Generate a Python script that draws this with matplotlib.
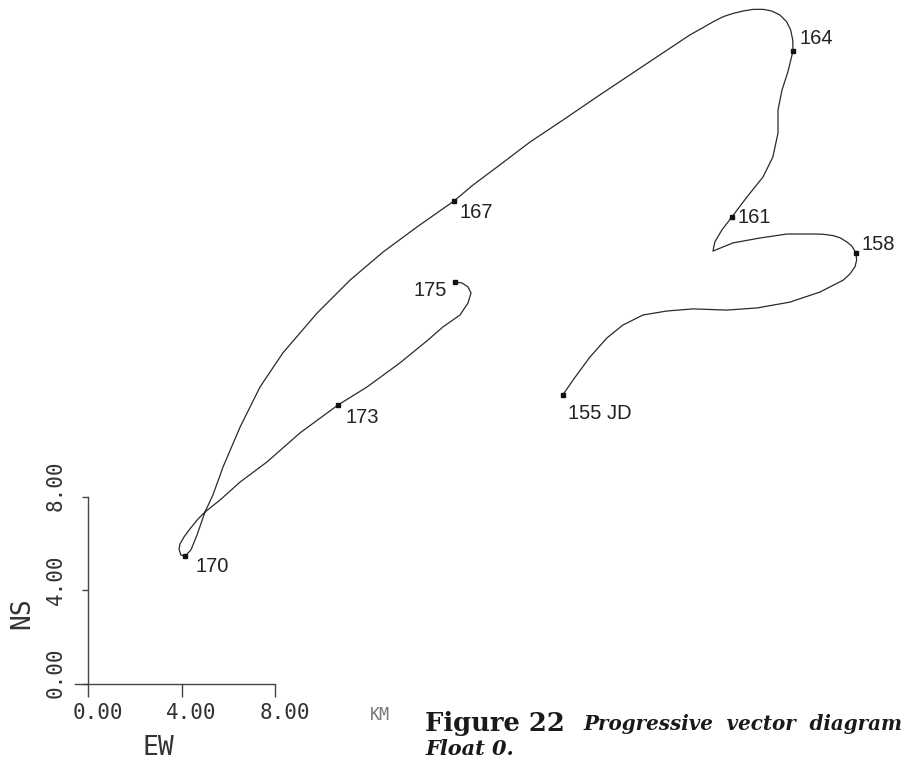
import matplotlib
matplotlib.use("Agg")
import matplotlib.pyplot as plt
import numpy as np

# Float 0 track, km east (EW) and km north (NS) from the origin
track_ew = [20.29, 20.73, 21.45, 22.18, 22.86, 23.72, 24.74, 25.85, 27.31, 28.59,
            30.00, 31.28, 32.28, 32.56, 32.78, 32.85, 32.82, 32.64, 32.42, 32.14,
            31.85, 31.42, 30.99, 29.87, 28.72, 27.56, 26.71, 26.79, 27.09, 27.52,
            28.16, 28.85, 29.27, 29.49, 29.49, 29.66, 29.91, 30.13, 30.12, 30.03,
            29.86, 29.57, 29.22, 28.86, 28.43, 28.00, 27.58, 27.15, 26.72, 26.23,
            25.73, 24.57, 23.16, 21.75, 20.30, 18.89, 17.48, 16.45, 15.64, 14.06,
            12.61, 11.20, 9.79, 8.33, 7.35, 6.50, 5.77, 5.34, 5.00, 4.66,
            4.40, 4.15, 3.97, 3.89, 3.93, 4.10, 4.32, 4.70, 5.00, 5.64,
            6.50, 7.65, 9.06, 10.68, 11.92, 13.33, 14.53, 15.17, 15.90, 16.24,
            16.37, 16.24, 15.98, 15.68]
track_ns = [12.35, 12.99, 13.97, 14.79, 15.34, 15.77, 15.94, 16.03, 15.98, 16.07,
            16.32, 16.75, 17.26, 17.52, 17.83, 18.12, 18.43, 18.72, 18.90, 19.07,
            19.16, 19.22, 19.23, 19.23, 19.06, 18.85, 18.50, 18.89, 19.40, 19.96,
            20.81, 21.67, 22.52, 23.55, 24.53, 25.38, 26.15, 27.05, 27.52, 27.95,
            28.30, 28.59, 28.76, 28.83, 28.83, 28.76, 28.66, 28.52, 28.30, 28.02,
            27.74, 26.97, 26.03, 25.09, 24.10, 23.16, 22.09, 21.32, 20.64, 19.53,
            18.46, 17.26, 15.85, 14.15, 12.69, 10.98, 9.27, 8.08, 7.35, 6.37,
            5.73, 5.47, 5.51, 5.77, 5.98, 6.28, 6.58, 7.05, 7.35, 7.86,
            8.63, 9.49, 10.73, 11.92, 12.69, 13.72, 14.70, 15.26, 15.77, 16.28,
            16.71, 16.97, 17.14, 17.18]

# julian days marked along the track, and where they fall in it
days = ["155 JD", "158", "161", "164", "167", "170", "173", "175"]
day_idx = [0, 16, 29, 37, 58, 71, 83, 93]

ticks = [0, 4, 8]
tick_labels = ["0.00", "4.00", "8.00"]

# label offsets in pixels (dx, dy, ha)
label_off = [(5, -18, "left"), (6, 8, "left"), (6, -1, "left"), (7, 13, "left"),
             (6, -11, "left"), (10, -10, "left"), (8, -12, "left"), (-8, -9, "right")]

fig = plt.figure(figsize=(9.06, 7.65), dpi=100)
ax = fig.add_axes([0, 0, 1, 1])
ax.set_xlim(-3.76, 34.96)
ax.set_ylim(-3.46, 29.23)
ax.set_facecolor("white")

ink = "#2a2a2a"
ax.plot(track_ew, track_ns, color=ink, lw=0.9, solid_joinstyle="round")

mx = np.array(track_ew)[day_idx]
my = np.array(track_ns)[day_idx]
ax.plot(mx, my, "s", color="#111111", ms=3.2, ls="none")

for d, x, y, (dx, dy, ha) in zip(days, mx, my, label_off):
    ax.annotate(d, (x, y), xytext=(dx, dy), textcoords="offset pixels",
                ha=ha, va="center", fontsize=14.5, color="#222222",
                family="Liberation Sans")

# L-shaped scale axes at the origin
for s in ["top", "right"]:
    ax.spines[s].set_visible(False)
ax.spines["left"].set_position(("data", 0))
ax.spines["bottom"].set_position(("data", 0))
ax.spines["left"].set_bounds(0, 8)
ax.spines["bottom"].set_bounds(-0.55, 8)
for s in ["left", "bottom"]:
    ax.spines[s].set_color("#444444")
    ax.spines[s].set_linewidth(1.0)
ax.set_xticks(ticks)
ax.set_yticks(ticks)
ax.set_xticklabels([])
ax.set_yticklabels([])
ax.tick_params(axis="x", direction="out", length=9, width=1.0, color="#444444")
ax.tick_params(axis="y", direction="out", length=4.5, width=1.0, color="#444444")

mono = "DejaVu Sans Mono"
for t, lab in zip(ticks, tick_labels):
    ax.annotate(lab, (t, 0), xytext=(10, -29), textcoords="offset pixels",
                ha="center", va="center", fontsize=15, family=mono, color="#333333")
    ax.annotate(lab, (0, t), xytext=(-32, 11), textcoords="offset pixels",
                ha="center", va="center", fontsize=15, family=mono, color="#333333",
                rotation=90)

fig.text(22 / 906, 1 - 613 / 765, "NS", rotation=90, ha="center", va="center",
         fontsize=19, family=mono, color="#333333")
fig.text(158 / 906, 1 - 748 / 765, "EW", ha="center", va="center",
         fontsize=19, family=mono, color="#333333")
fig.text(380 / 906, 1 - 715 / 765, "KM", ha="center", va="center",
         fontsize=12, family=mono, color="#777777")

fig.text(425 / 906, 1 - 724 / 765, "Figure 22", ha="left", va="center",
         fontsize=18.5, family="DejaVu Serif", weight="bold", color="#1a1a1a")
fig.text(583 / 906, 1 - 724 / 765, "Progressive  vector  diagram", ha="left",
         va="center", fontsize=14.3, family="DejaVu Serif", style="italic",
         weight="bold", color="#1a1a1a")
fig.text(425 / 906, 1 - 749 / 765, "Float 0.", ha="left", va="center",
         fontsize=15, family="DejaVu Serif", style="italic", weight="bold",
         color="#1a1a1a")

fig.savefig("out.png", dpi=100, facecolor="white")
